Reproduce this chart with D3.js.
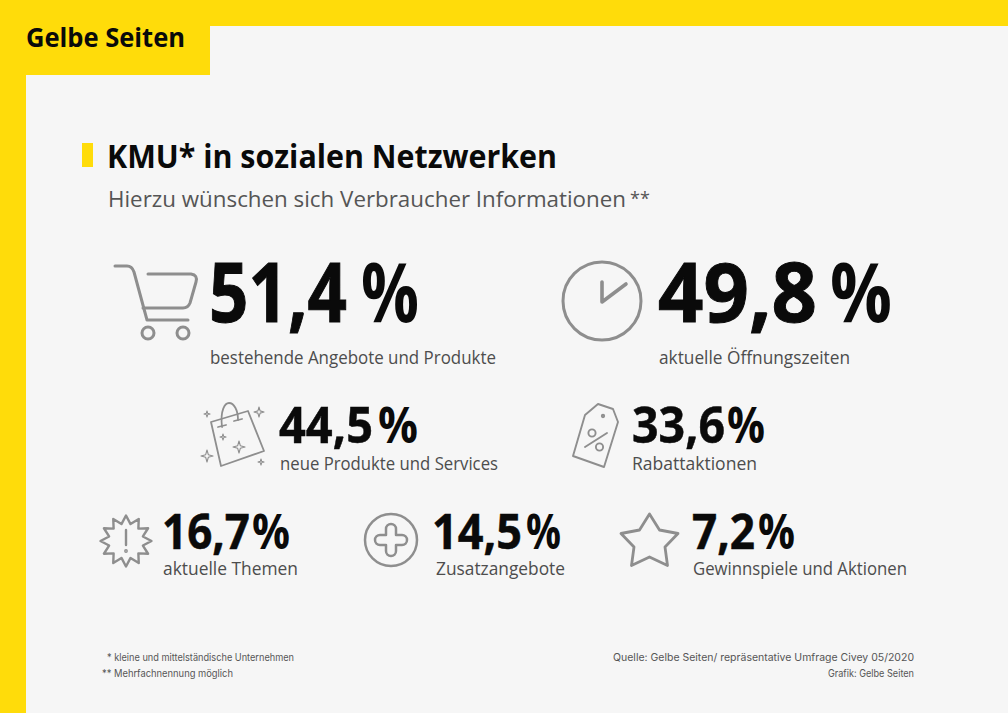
<!DOCTYPE html>
<html>
<head>
<meta charset="utf-8">
<script src="https://cdn.jsdelivr.net/npm/d3@7"></script>
<style>
  html, body { margin: 0; padding: 0; background: #f6f6f6; }
  svg { display: block; }
  text { font-family: "Open Sans", "Noto Sans", sans-serif; }
  .note { font-family: Inter, Roboto, sans-serif; fill: #555; font-size: 10.5px; }
</style>
</head>
<body>
<div id="chart"></div>
<script>
  // Values
  const categories = [
    "bestehende Angebote und Produkte",
    "aktuelle Öffnungszeiten",
    "neue Produkte und Services",
    "Rabattaktionen",
    "aktuelle Themen",
    "Zusatzangebote",
    "Gewinnspiele und Aktionen"
  ];
  const values = [51.4, 49.8, 44.5, 33.6, 16.7, 14.5, 7.2];
  const iconNames = ["cart", "clock", "bag", "tag", "burst", "plus", "star"];

  // Where each stat sits
  const statX = [209, 658, 279, 632, 162, 432, 692];
  const statEnd = [347, 817, 373, 725, 250, 522, 755];
  const pctX = [361, 830, 378, 727, 252, 526, 758];
  const pctEnd = [419, 892, 418, 765, 290, 561, 795];
  const statBase = [322, 322, 443, 443, 549, 549, 549];
  const statSize = [82, 82, 50, 50, 48, 48, 48];
  const labelX = [210, 659, 280, 632, 163, 436, 693];
  const labelBase = [364, 364, 470, 470, 575, 575, 575];
  const labelWidth = [286, 191, 218, 125, 135, 129, 214];

  const width = 1008, height = 713;
  const yellow = "#ffdc0a", iconGrey = "#8e8e8e";

  const deFormat = d3.formatLocale({decimal: ",", thousands: ".", grouping: [3], currency: ["", " €"]}).format(".1f");

  const svg = d3.select("#chart")
    .append("svg")
      .attr("width", width)
      .attr("height", height);

  // page frame
  svg.append("rect").attr("width", width).attr("height", height).attr("fill", "#f6f6f6");
  svg.append("rect").attr("width", width).attr("height", 26).attr("fill", yellow);
  svg.append("rect").attr("width", 26).attr("height", height).attr("fill", yellow);
  svg.append("rect").attr("width", 210).attr("height", 75).attr("fill", yellow);

  svg.append("text")
    .attr("x", 26).attr("y", 47)
    .attr("font-size", 27).attr("font-weight", 700)
    .attr("textLength", 159).attr("lengthAdjust", "spacingAndGlyphs")
    .attr("fill", "#0a0a0a")
    .text("Gelbe Seiten");

  // heading
  svg.append("rect").attr("x", 82).attr("y", 143).attr("width", 11).attr("height", 24).attr("fill", yellow);

  svg.append("text")
    .attr("x", 107).attr("y", 168)
    .attr("font-size", 33).attr("font-weight", 700)
    .attr("textLength", 450).attr("lengthAdjust", "spacingAndGlyphs")
    .attr("fill", "#0a0a0a")
    .text("KMU* in sozialen Netzwerken");

  svg.append("text")
    .attr("x", 108).attr("y", 207)
    .attr("font-size", 22)
    .attr("textLength", 518).attr("lengthAdjust", "spacingAndGlyphs")
    .attr("fill", "#555")
    .text("Hierzu wünschen sich Verbraucher Informationen");

  svg.append("text")
    .attr("x", 630).attr("y", 205)
    .attr("font-size", 18)
    .attr("fill", "#555")
    .text("**");

  // stats
  const stats = svg.selectAll("g.stat")
    .data(values)
    .join("g")
      .attr("class", "stat");

  stats.append("text")
    .attr("x", (d, i) => statX[i])
    .attr("y", (d, i) => statBase[i])
    .attr("font-size", (d, i) => statSize[i])
    .attr("font-weight", 700)
    .attr("fill", "#0a0a0a")
    .attr("stroke", "#0a0a0a")
    .attr("stroke-width", (d, i) => i < 2 ? 1 : 0.5)
    .attr("textLength", (d, i) => statEnd[i] - statX[i])
    .attr("lengthAdjust", "spacingAndGlyphs")
    .text(d => deFormat(d));

  stats.append("text")
    .attr("x", (d, i) => pctX[i])
    .attr("y", (d, i) => statBase[i])
    .attr("font-size", (d, i) => statSize[i])
    .attr("font-weight", 700)
    .attr("fill", "#0a0a0a")
    .attr("textLength", (d, i) => pctEnd[i] - pctX[i])
    .attr("lengthAdjust", "spacingAndGlyphs")
    .text("%");

  stats.append("text")
    .attr("x", (d, i) => labelX[i])
    .attr("y", (d, i) => labelBase[i])
    .attr("font-size", 18)
    .attr("fill", "#4d4d4d")
    .attr("textLength", (d, i) => labelWidth[i])
    .attr("lengthAdjust", "spacingAndGlyphs")
    .text((d, i) => categories[i]);

  // icons
  const icons = svg.append("g")
    .attr("fill", "none")
    .attr("stroke", iconGrey)
    .attr("stroke-width", 3)
    .attr("stroke-linecap", "round")
    .attr("stroke-linejoin", "round");

  function sparkle(cx, cy, r) {
    let k = r * 0.22;
    return `M${cx},${cy - r}L${cx + k},${cy - k}L${cx + r},${cy}L${cx + k},${cy + k}L${cx},${cy + r}L${cx - k},${cy + k}L${cx - r},${cy}L${cx - k},${cy - k}Z`;
  }

  const drawIcon = {
    cart: g => {
      g.append("path").attr("d", "M115,266H127Q132,266 134,272L147,320H188");
      g.append("path").attr("d", "M148,274H191Q198,275 196,282L190,303Q188,308 183,308H143");
      g.selectAll("circle").data([148, 183]).join("circle")
        .attr("cx", d => d).attr("cy", 333).attr("r", 6);
    },
    clock: g => {
      g.append("circle").attr("cx", 602).attr("cy", 301).attr("r", 39);
      g.append("path").attr("stroke-width", 3.6).attr("d", "M602,282V302L626,284");
    },
    bag: g => {
      g.attr("stroke-width", 1.8);
      g.append("path").attr("d", "M211,422L248,411L264,451L221,466Z");
      g.append("path").attr("d", "M222,427C220,410 225,403 229,403C234,403 238,410 238,420");
      g.append("path").attr("d", "M218,427L226,425M234,421L242,419");
      g.append("path").attr("stroke-width", 1.1)
        .attr("d", [[259, 412, 5], [207, 414, 3], [223, 437, 3], [239, 447, 6], [207, 456, 6], [261, 462, 3]].map(s => sparkle(...s)).join(""));
    },
    tag: g => {
      g.attr("stroke-width", 1.9);
      g.append("path").attr("d", "M598,404L613,409L618,422L604,467L573,456L585,415Z");
      g.append("circle").attr("cx", 603).attr("cy", 416).attr("r", 1.2);
      g.append("circle").attr("cx", 592).attr("cy", 433).attr("r", 3.6);
      g.append("circle").attr("cx", 599.5).attr("cy", 447).attr("r", 3.6);
      g.append("path").attr("d", "M585,447L607,433");
    },
    burst: g => {
      let pts = d3.range(24).map(i => [i * Math.PI / 12, i % 2 ? 17.5 : 25.5]);
      g.attr("stroke-width", 2.4);
      g.append("path")
        .attr("transform", "translate(126,541)")
        .attr("d", d3.lineRadial().curve(d3.curveLinearClosed)(pts));
      g.append("path").attr("d", "M126,530V545");
      g.append("circle").attr("cx", 126).attr("cy", 551).attr("r", 0.7);
    },
    plus: g => {
      g.attr("stroke-width", 2.5);
      g.append("circle").attr("cx", 391).attr("cy", 540).attr("r", 26);
      g.append("path").attr("transform", "translate(391,540)")
        .attr("d", "M-5,-11A5,5 0 0 1 5,-11V-5H11A5,5 0 0 1 11,5H5V11A5,5 0 0 1 -5,11V5H-11A5,5 0 0 1 -11,-5H-5Z");
    },
    star: g => {
      g.attr("stroke-width", 2.8);
      g.append("path").attr("d", "M649.5,514L659.5,530L678,533.5L665,547L667.5,565.5L649.5,557L631.5,565.5L634,547L621,533.5L639.5,530Z");
    }
  };

  iconNames.forEach(name => {
    drawIcon[name](icons.append("g").attr("class", "icon-" + name));
  });

  // footnotes
  const notes = [
    {t: "* kleine und mittelständische Unternehmen", x: 107, y: 661, w: 187},
    {t: "** Mehrfachnennung möglich", x: 102, y: 677, w: 131},
    {t: "Quelle: Gelbe Seiten/ repräsentative Umfrage Civey 05/2020", x: 613, y: 661, w: 301},
    {t: "Grafik: Gelbe Seiten", x: 828, y: 677, w: 86}
  ];
  svg.selectAll("text.note")
    .data(notes)
    .join("text")
      .attr("class", "note")
      .attr("x", d => d.x)
      .attr("y", d => d.y)
      .attr("textLength", d => d.w)
      .attr("lengthAdjust", "spacingAndGlyphs")
      .text(d => d.t);
</script>
</body>
</html>
